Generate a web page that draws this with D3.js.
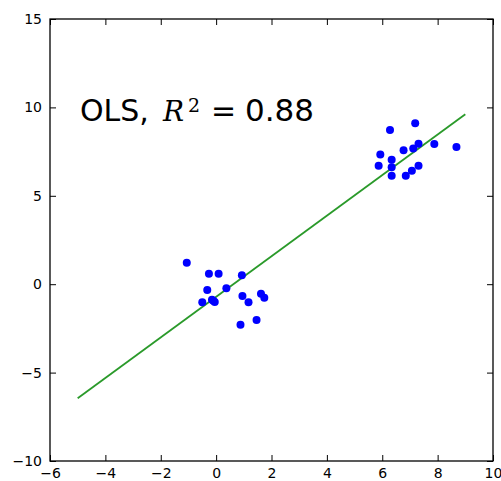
<!DOCTYPE html>
<html>
<head>
<meta charset="utf-8">
<script src="https://cdn.jsdelivr.net/npm/d3@7"></script>
<style>
  body { margin: 0; background: #fff; }
  svg { display: block; }
</style>
</head>
<body>
<svg id="chart" width="501" height="481"></svg>
<script>
// Data
const lowX  = [-1.06, -0.26, 0.09, 0.93, -0.32, 0.37, -0.50, -0.10, -0.15, -0.05, 0.95, 1.17, 1.62, 1.74, 0.88, 1.46];
const lowY  = [ 1.22,  0.59, 0.59, 0.50, -0.33, -0.23, -1.02, -0.93, -0.88, -1.00, -0.67, -1.02, -0.54, -0.76, -2.29, -2.03];
const highX = [6.28, 7.19, 5.93, 5.87, 6.34, 6.34, 6.34, 6.77, 7.12, 7.31, 7.88, 8.68, 6.85, 7.07, 7.31];
const highY = [8.72, 9.10, 7.33, 6.70, 7.04, 6.62, 6.14, 7.58, 7.67, 7.95, 7.93, 7.76, 6.14, 6.41, 6.70];
const fitX  = [-5, 9];
const fitY  = [-6.45, 9.61];
const xTicks = [-6, -4, -2, 0, 2, 4, 6, 8, 10];
const yTicks = [-10, -5, 0, 5, 10, 15];
const annotation = { prefix: "OLS,", sym: "R", sup: "2", eq: "=", value: "0.88" };

const svg = d3.select("#chart");
const L = 50, R = 493, T = 19, B = 461;
const x = d3.scaleLinear().domain([-6, 10]).range([L, R]);
const y = d3.scaleLinear().domain([-10, 15]).range([B, T]);

const fmt = d => (d < 0 ? "\u2212" + Math.abs(d) : String(d));
const font = "'DejaVu Sans', sans-serif";
const tickLen = 6;

// Fit line
svg.append("path")
  .datum(fitX.map((d, i) => [d, fitY[i]]))
  .attr("fill", "none")
  .attr("stroke", "#2a9a2a")
  .attr("stroke-width", 1.8)
  .attr("d", d3.line().x(d => x(d[0])).y(d => y(d[1])));

// Points
const pts = lowX.map((d, i) => [d, lowY[i]]).concat(highX.map((d, i) => [d, highY[i]]));
svg.append("g").selectAll("circle").data(pts).join("circle")
  .attr("cx", d => x(d[0]))
  .attr("cy", d => y(d[1]))
  .attr("r", 4)
  .attr("fill", "#0000ff");

// Axes (inward ticks on all sides)
function styleAxis(g) {
  g.select(".domain").remove();
  g.selectAll("text").attr("font-family", font).attr("font-size", 14).attr("fill", "#000");
  g.selectAll("line").attr("stroke", "#000").attr("stroke-width", 1);
}
svg.append("g").attr("transform", `translate(0,${B})`)
  .call(d3.axisBottom(x).tickValues(xTicks).tickFormat(fmt).tickSizeInner(-tickLen).tickSizeOuter(0).tickPadding(7))
  .call(styleAxis);
svg.append("g").attr("transform", `translate(0,${T})`)
  .call(d3.axisTop(x).tickValues(xTicks).tickFormat("").tickSizeInner(-tickLen).tickSizeOuter(0))
  .call(styleAxis);
svg.append("g").attr("transform", `translate(${L},0)`)
  .call(d3.axisLeft(y).tickValues(yTicks).tickFormat(fmt).tickSizeInner(-tickLen).tickSizeOuter(0).tickPadding(8))
  .call(styleAxis);
svg.append("g").attr("transform", `translate(${R},0)`)
  .call(d3.axisRight(y).tickValues(yTicks).tickFormat("").tickSizeInner(-tickLen).tickSizeOuter(0))
  .call(styleAxis);

// Frame
svg.append("rect")
  .attr("x", L).attr("y", T).attr("width", R - L).attr("height", B - T)
  .attr("fill", "none").attr("stroke", "#000").attr("stroke-width", 1.3);

// Annotation
const txt = svg.append("text")
  .attr("x", 80).attr("y", 121)
  .attr("font-family", font).attr("font-size", 30).attr("fill", "#000");
txt.append("tspan").text(annotation.prefix);
txt.append("tspan").attr("x", 163).attr("font-family", "'DejaVu Serif', serif").attr("font-style", "italic").attr("font-size", 28).text(annotation.sym);
txt.append("tspan").attr("x", 188).attr("y", 112).attr("font-family", "'DejaVu Serif', serif").attr("font-size", 19).text(annotation.sup);
txt.append("tspan").attr("x", 211).attr("y", 121).text(annotation.eq);
txt.append("tspan").attr("x", 245).attr("y", 121).attr("font-size", 31).text(annotation.value);
</script>
</body>
</html>
